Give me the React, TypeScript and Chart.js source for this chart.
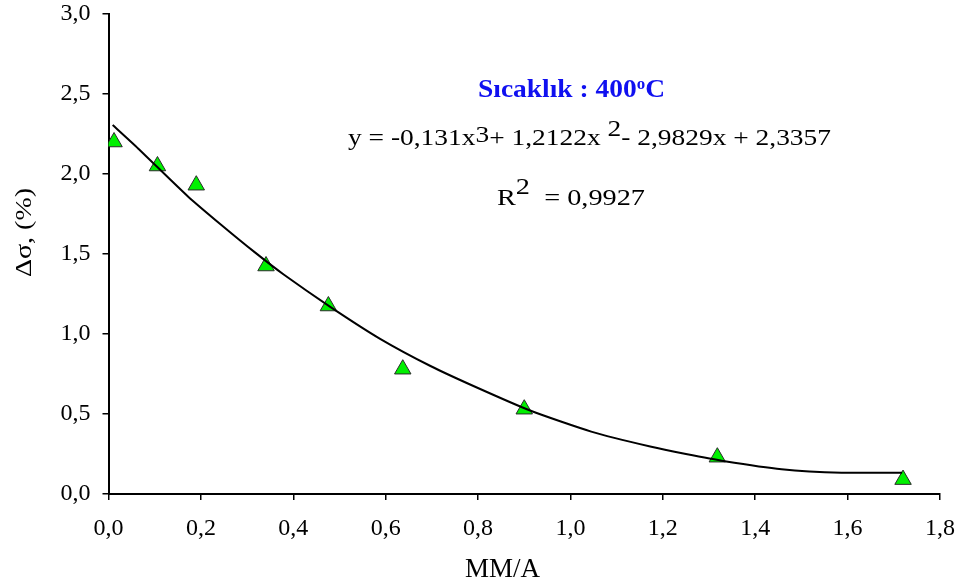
import React, { useEffect, useRef } from "react";
import { Chart, registerables } from "chart.js";

Chart.register(...registerables);

// Measured points (MM/A vs Δσ %)
const mmA = [0.012, 0.106, 0.19, 0.341, 0.476, 0.637, 0.9, 1.318, 1.72];
const deltaSigma = [2.2, 2.05, 1.93, 1.425, 1.175, 0.78, 0.53, 0.23, 0.09];

// Trend line
const trendX = [0.009, 0.064, 0.172, 0.245, 0.317, 0.38, 0.48, 0.588, 0.697, 0.79, 0.914, 1.045, 1.175, 1.25, 1.334, 1.457, 1.587, 1.718];
const trendY = [2.306, 2.16, 1.86, 1.68, 1.51, 1.37, 1.17, 0.97, 0.8, 0.675, 0.52, 0.39, 0.295, 0.25, 0.205, 0.155, 0.133, 0.133];

const xTicks = [0, 0.2, 0.4, 0.6, 0.8, 1.0, 1.2, 1.4, 1.6, 1.8];
const yTicks = [0, 0.5, 1.0, 1.5, 2.0, 2.5, 3.0];

const titleText = "Sıcaklık : 400";
const equationParts = ["y = -0,131x", "3", "+ 1,2122x ", "2", "- 2,9829x + 2,3357"];
const r2Parts = ["R", "2", "  = 0,9927"];
const xTitle = "MM/A";
const yTitle = "Δσ, (%)";

const SERIF = "'Liberation Serif', 'Times New Roman', serif";
const fmt = (v: number) => Number(v).toFixed(1).replace(".", ",");

type Part = { t: string; dy: number; font: string };

function drawParts(ctx: CanvasRenderingContext2D, parts: Part[], left: number, right: number, baseline: number, color: string) {
  let total = 0;
  const widths = parts.map((p) => {
    ctx.font = p.font;
    const w = ctx.measureText(p.t).width;
    total += w;
    return w;
  });
  const sx = (right - left) / total;
  ctx.save();
  ctx.translate(left, baseline);
  ctx.scale(sx, 1);
  ctx.fillStyle = color;
  ctx.textBaseline = "alphabetic";
  ctx.textAlign = "left";
  let x = 0;
  parts.forEach((p, i) => {
    ctx.font = p.font;
    ctx.fillText(p.t, x, p.dy);
    x += widths[i];
  });
  ctx.restore();
}

const textPlugin = {
  id: "annotText",
  afterDraw(chart: any) {
    const ctx: CanvasRenderingContext2D = chart.ctx;
    const f = `24px ${SERIF}`;
    drawParts(
      ctx,
      [
        { t: titleText, dy: 0, font: `bold 26px ${SERIF}` },
        { t: "o", dy: -8, font: `bold 16px ${SERIF}` },
        { t: "C", dy: 0, font: `bold 26px ${SERIF}` },
      ],
      478,
      665,
      97,
      "#1010f0"
    );
    drawParts(
      ctx,
      [
        { t: equationParts[0], dy: 0, font: f },
        { t: equationParts[1], dy: -3, font: f },
        { t: equationParts[2], dy: 0, font: f },
        { t: equationParts[3], dy: -9, font: f },
        { t: equationParts[4], dy: 0, font: f },
      ],
      348,
      831,
      145,
      "#000"
    );
    drawParts(
      ctx,
      [
        { t: r2Parts[0], dy: 0, font: f },
        { t: r2Parts[1], dy: -11, font: f },
        { t: r2Parts[2], dy: 0, font: f },
      ],
      497,
      645,
      205,
      "#000"
    );
    drawParts(ctx, [{ t: xTitle, dy: 0, font: `27px ${SERIF}` }], 465, 540, 577, "#000");
    ctx.save();
    ctx.translate(31, 0);
    ctx.rotate(-Math.PI / 2);
    drawParts(ctx, [{ t: yTitle, dy: 0, font: `23px ${SERIF}` }], -277, -188, 0, "#000");
    ctx.restore();
  },
};

export default function App() {
  const ref = useRef<HTMLCanvasElement>(null);
  useEffect(() => {
    if (!ref.current) return;
    const chart = new Chart(ref.current, {
      type: "scatter",
      data: {
        datasets: [
          {
            type: "line",
            data: trendX.map((x, i) => ({ x, y: trendY[i] })),
            borderColor: "#000",
            borderWidth: 2,
            pointRadius: 0,
            tension: 0.2,
            fill: false,
            order: 0,
          } as any,
          {
            type: "scatter",
            data: mmA.map((x, i) => ({ x, y: deltaSigma[i] })),
            pointStyle: "triangle",
            pointRadius: 9.5,
            backgroundColor: "#00f000",
            borderColor: "#2a2a2a",
            borderWidth: 1,
            order: 1,
          },
        ],
      },
      options: {
        responsive: false,
        animation: false,
        layout: { padding: { top: 14, right: 21, left: 0, bottom: 0 } },
        plugins: { legend: { display: false }, tooltip: { enabled: false } },
        scales: {
          x: {
            type: "linear",
            min: 0,
            max: 1.8,
            afterBuildTicks: (s: any) => {
              s.ticks = xTicks.map((v) => ({ value: v }));
            },
            ticks: {
              callback: (v: any) => fmt(v),
              font: { family: SERIF, size: 24 },
              color: "#000",
              padding: 14,
              maxRotation: 0,
              autoSkip: false,
            },
            grid: { drawOnChartArea: false, tickLength: 6, color: "#000", lineWidth: 1.5 },
            border: { color: "#000", width: 2 },
            afterFit: (s: any) => {
              s.height = 89;
              s.paddingLeft = 0;
              s.paddingRight = 0;
            },
          },
          y: {
            type: "linear",
            min: 0,
            max: 3,
            afterBuildTicks: (s: any) => {
              s.ticks = yTicks.map((v) => ({ value: v }));
            },
            ticks: {
              callback: (v: any) => fmt(v),
              font: { family: SERIF, size: 24 },
              color: "#000",
              padding: 12,
              autoSkip: false,
            },
            grid: { drawOnChartArea: false, tickLength: 6, color: "#000", lineWidth: 1.5 },
            border: { color: "#000", width: 2 },
            afterFit: (s: any) => {
              s.width = 108.5;
              s.paddingTop = 0;
              s.paddingBottom = 0;
            },
          },
        },
      },
      plugins: [textPlugin],
    });
    return () => chart.destroy();
  }, []);
  return (
    <div style={{ position: "absolute", left: 0, top: 0, width: 961, height: 583, background: "#fff" }}>
      <canvas ref={ref} width={961} height={583} style={{ display: "block" }} />
    </div>
  );
}
